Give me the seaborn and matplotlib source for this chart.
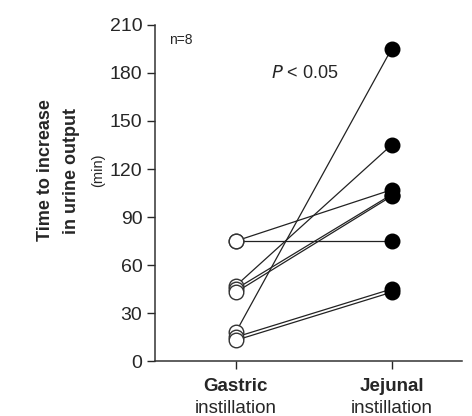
import pandas as pd
import matplotlib.pyplot as plt
import seaborn as sns

# Paired data (minutes), one entry per subject
subjects = [1, 2, 3, 4, 5, 6, 7, 8]
gastric = [75, 75, 47, 45, 43, 18, 15, 13]
jejunal = [75, 107, 135, 104, 103, 195, 45, 43]
conditions = ["Gastric", "Jejunal"]

sns.set_style("ticks")
plt.rcParams['font.family'] = ['Liberation Sans', 'DejaVu Sans']

df = pd.DataFrame({
    "subject": subjects * 2,
    "cond": [0] * 8 + [1] * 8,
    "time": gastric + jejunal,
})

fig = plt.figure(figsize=(4.72, 4.16), dpi=100)
ax = fig.add_axes([0.328, 0.132, 0.65, 0.808])

sns.lineplot(data=df, x="cond", y="time", units="subject", estimator=None,
             color="#222222", linewidth=0.9, ax=ax, legend=False)
sns.scatterplot(data=df[df.cond == 0], x="cond", y="time", s=110,
                color="white", edgecolor="#333333", linewidth=1.0, ax=ax, zorder=3)
sns.scatterplot(data=df[df.cond == 1], x="cond", y="time", s=110,
                color="black", edgecolor="black", linewidth=1.0, ax=ax, zorder=3)

ax.set_ylim(0, 210)
ax.set_xlim(-0.52, 1.45)
ax.set_yticks(range(0, 211, 30))
ax.set_xticks([0, 1])
ax.set_xticklabels(["", ""])
ax.set_xlabel("")
ax.set_ylabel("")
ax.tick_params(axis="y", labelsize=14, length=6, width=1, direction="out", pad=3)
ax.tick_params(axis="x", length=6, width=1, direction="out")
sns.despine(ax=ax)
for sp in ["left", "bottom"]:
    ax.spines[sp].set_linewidth(1.1)
    ax.spines[sp].set_color("#333333")

for x, name in zip([0, 1], conditions):
    ax.text(x, -0.05, name, transform=ax.get_xaxis_transform(), ha="center",
            va="top", fontsize=13.5, fontweight="bold")
    ax.text(x, -0.115, "instillation", transform=ax.get_xaxis_transform(),
            ha="center", va="top", fontsize=13.5)

ax.text(0.045, 0.975, "n=8", transform=ax.transAxes, fontsize=10, va="top")
ax.text(0.49, 0.857, "$\\mathit{P}$ < 0.05", transform=ax.transAxes,
        fontsize=13, ha="center", va="center")

fig.text(0.097, 0.59, "Time to increase", rotation=90, ha="center",
         va="center", fontsize=13, fontweight="bold")
fig.text(0.152, 0.59, "in urine output", rotation=90, ha="center",
         va="center", fontsize=13, fontweight="bold")
fig.text(0.207, 0.59, "(min)", rotation=90, ha="center", va="center",
         fontsize=10.5)

fig.savefig("out.png", dpi=100)
